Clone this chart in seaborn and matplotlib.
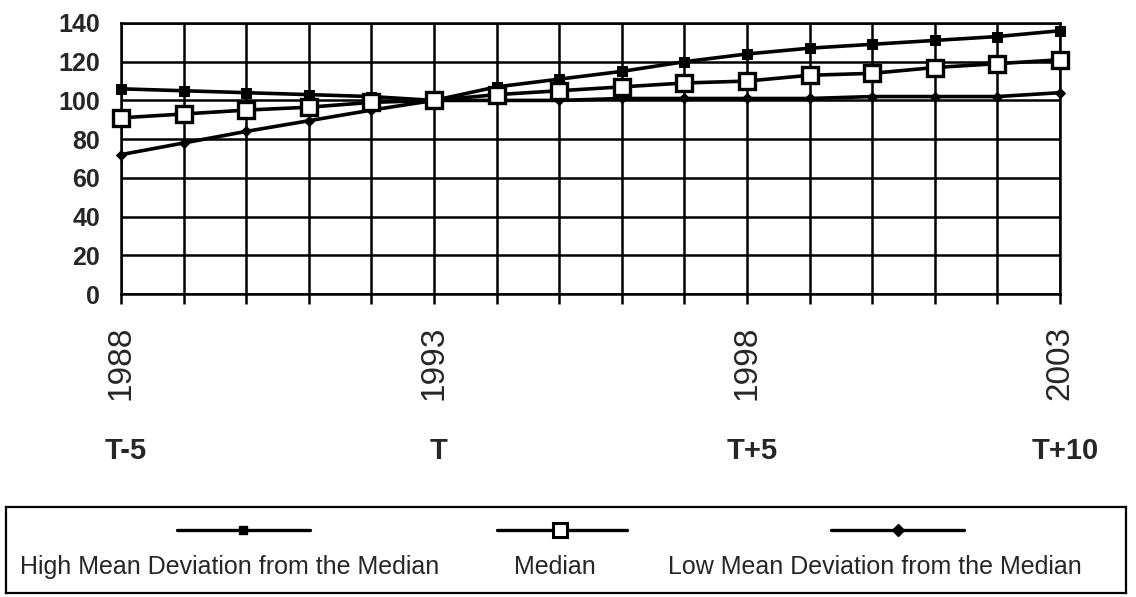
import matplotlib
matplotlib.use("Agg")
import matplotlib.pyplot as plt
import matplotlib.transforms as mtransforms
from matplotlib.lines import Line2D
import seaborn as sns
import pandas as pd

# ---- data ----
years = list(range(1988, 2004))
high = [106, 105, 104, 103, 102, 100, 107, 111, 115, 120, 124, 127, 129, 131, 133, 136]
median = [91, 93, 95, 96.5, 99, 100, 103, 105, 107, 109, 110, 113, 114, 117, 119, 121]
low = [72, 78, 84, 89.5, 95, 100, 100, 100, 101, 101, 101, 101, 102, 102, 102, 104]
year_labels = {1988: "1988", 1993: "1993", 1998: "1998", 2003: "2003"}
t_labels = {1988: "T-5", 1993: "T", 1998: "T+5", 2003: "T+10"}
series_names = ["High Mean Deviation from the Median", "Median",
                "Low Mean Deviation from the Median"]

sns.set_style("white")
plt.rcParams["font.family"] = ["Liberation Sans", "DejaVu Sans"]

W, H = 1136, 597
fig = plt.figure(figsize=(W / 100, H / 100), dpi=100)
AX_L, AX_R, AX_T, AX_B = 121, 1060, 23, 294
ax = fig.add_axes([AX_L / W, 1 - AX_B / H, (AX_R - AX_L) / W, (AX_B - AX_T) / H])

df = pd.DataFrame({"year": years, "high": high, "median": median, "low": low})

styles = {
    "high": dict(marker="s", markersize=7, markerfacecolor="black",
                 markeredgecolor="black"),
    "median": dict(marker="s", markersize=11, markerfacecolor="white",
                   markeredgecolor="black", markeredgewidth=2.4),
    "low": dict(marker="D", markersize=5.5, markerfacecolor="black",
                markeredgecolor="black"),
}
for key in ["low", "high", "median"]:
    sns.lineplot(data=df, x="year", y=key, ax=ax, color="black", linewidth=2.6,
                 zorder=5, clip_on=False, **styles[key])

ax.set_xlim(1988, 2003)
ax.set_ylim(0, 140)
ax.set_yticks(range(0, 141, 20))
ax.set_xticks(years)
ax.set_xticklabels([year_labels.get(y, "") for y in years], rotation=90,
                   fontsize=24, va="top")
ax.set_yticklabels([str(v) for v in range(0, 141, 20)], fontsize=18,
                   fontweight="bold")
ax.set_xlabel("")
ax.set_ylabel("")
ax.grid(True, color="black", linewidth=1.8)
ax.set_axisbelow(True)
for s in ax.spines.values():
    s.set_color("black")
    s.set_linewidth(1.8)
ax.tick_params(axis="x", length=7, width=1.8, color="black", pad=16, direction="out")
ax.tick_params(axis="y", length=0, pad=15)
ax.xaxis.set_ticks_position("bottom")

trans = mtransforms.blended_transform_factory(ax.transData, fig.transFigure) + \
    mtransforms.ScaledTranslation(5 / 100, 0, fig.dpi_scale_trans)
for yr, lab in t_labels.items():
    fig.text(yr, 1 - 451 / H, lab, transform=trans, ha="center", va="center",
             fontsize=21, fontweight="bold")

# ---- legend box ----
lx0, lx1, ly0, ly1 = 6, 1126, 507, 593
lax = fig.add_axes([lx0 / W, 1 - ly1 / H, (lx1 - lx0) / W, (ly1 - ly0) / H])
lax.set_xlim(0, 1)
lax.set_ylim(0, 1)
lax.set_xticks([])
lax.set_yticks([])
for s in lax.spines.values():
    s.set_color("black")
    s.set_linewidth(1.6)

def fx(px):
    return (px - lx0) / (lx1 - lx0)

line_y = (ly1 - 530) / (ly1 - ly0)
text_y = (ly1 - 567) / (ly1 - ly0)
legend_spec = [
    (177, 310, 243, 230, dict(marker="s", markersize=6, markerfacecolor="black", markeredgecolor="black")),
    (497, 627, 560, 555, dict(marker="s", markersize=10, markerfacecolor="white", markeredgecolor="black", markeredgewidth=2.2)),
    (831, 964, 898, 875, dict(marker="D", markersize=6, markerfacecolor="black", markeredgecolor="black")),
]
for (x0, x1, mx, tx, mk), name in zip(legend_spec, series_names):
    lax.add_line(Line2D([fx(x0), fx(x1)], [line_y, line_y], color="black", linewidth=2.4))
    lax.add_line(Line2D([fx(mx)], [line_y], linestyle="none", **mk))
    lax.text(fx(tx), text_y, name, ha="center", va="center", fontsize=18)

fig.savefig("out.png", dpi=100)
